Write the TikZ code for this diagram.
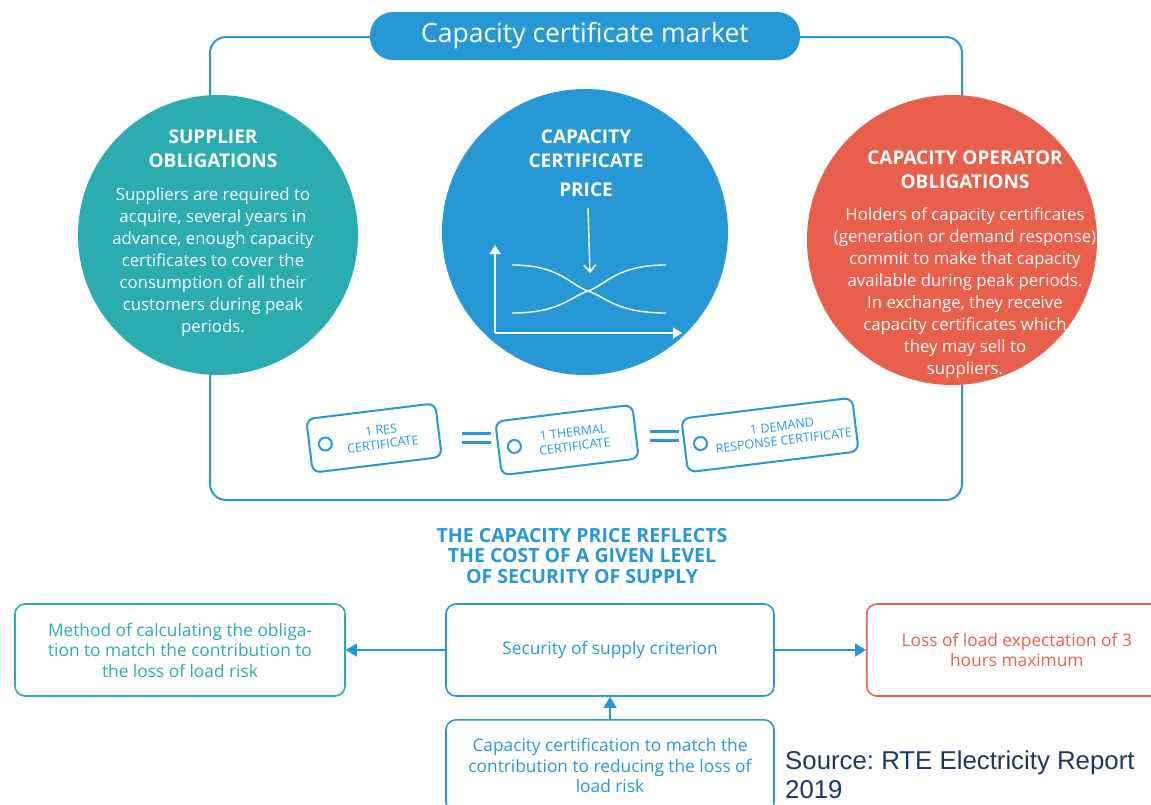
\documentclass[tikz,border=0pt]{standalone}
\usepackage{fontspec}
\setmainfont{Open Sans}
\newfontfamily\srcfont{Liberation Sans}
\usetikzlibrary{calc,arrows.meta,positioning}

\definecolor{capblue}{RGB}{38,152,214}
\definecolor{capteal}{RGB}{42,172,177}
\definecolor{capcoral}{RGB}{232,96,75}
\definecolor{srcnavy}{RGB}{28,56,98}

\tikzset{
  heading/.style={text=white,align=center,font=\fontsize{19}{24}\selectfont\bfseries},
  body/.style={text=white,align=center,font=\fontsize{16.8}{22}\selectfont},
  tagbox/.style={draw=capblue,line width=2pt,rounded corners=8pt,minimum height=54pt},
  tagtext/.style={text=capblue,align=center,inner sep=0pt,font=\fontsize{12.5}{14.5}\selectfont},
  hole/.style={draw=capblue,line width=2pt,circle,minimum size=13pt,inner sep=0pt},
  infobox/.style={draw=#1,line width=1.6pt,rounded corners=10pt,text=#1,align=center,
    minimum height=92pt,font=\fontsize{17.3}{20.5}\selectfont},
  link/.style={capblue,line width=1.6pt,-{Triangle[length=11pt,width=13pt]}},
}

\begin{document}
\begin{tikzpicture}[x=1pt,y=-1pt]
\useasboundingbox (0,0) rectangle (1151,804);
\clip (0,0) rectangle (1151,804);

% market frame and title
\draw[capblue,line width=2pt,rounded corners=16pt] (210,37) rectangle (962,500);
\node[fill=capblue,rounded corners=23pt,minimum width=430pt,minimum height=48pt,
  text=white,font=\fontsize{26.5}{30}\selectfont] (market) at (585,36) {Capacity certificate market};

% the three circles
\node[circle,fill=capteal,minimum size=280pt] (supplier) at (218,235) {};
\node[circle,fill=capblue,minimum size=286pt] (price) at (585,232) {};
\node[circle,fill=capcoral,minimum size=290pt] (operator) at (952,240) {};

\node[heading] (supplierhead) at (213,149) {SUPPLIER\\OBLIGATIONS};
\node[body,anchor=north] (supplierbody) at (213,184) {Suppliers are required to\\
  acquire, several years in\\advance, enough capacity\\certificates to cover the\\
  consumption of all their\\customers during peak\\periods.};

\node[heading] (pricehead) at (586,149) {CAPACITY\\CERTIFICATE};
\node[heading] (pricelabel) at (586,190) {PRICE};

\node[heading] (operatorhead) at (965,170) {CAPACITY OPERATOR\\OBLIGATIONS};
\node[body,anchor=north] (operatorbody) at (965,204) {Holders of capacity certificates\\
  (generation or demand response)\\commit to make that capacity\\available during peak periods.\\
  In exchange, they receive\\capacity certificates which\\they may sell to\\suppliers.};

% price graph
\coordinate (origin) at (495,333);
\coordinate (ytop) at (495,245);
\coordinate (xend) at (682,333);
\coordinate (cross) at (588,291);
\draw[white,line width=1.6pt,-{Triangle[length=9pt,width=11pt]}] (origin) -- (ytop);
\draw[white,line width=1.6pt,-{Triangle[length=9pt,width=11pt]}] (origin) -- (xend);
\draw[white,line width=1.4pt] (512,265) .. controls (560,265) and (570,285) .. (cross)
  .. controls (606,297) and (616,313) .. (666,313);
\draw[white,line width=1.4pt] (512,313) .. controls (560,313) and (570,297) .. (cross)
  .. controls (606,285) and (616,265) .. (666,265);
\draw[white,line width=1.4pt,-{Straight Barb[length=7pt,width=12pt]}] (pricelabel) ++(2,18) -- (590,273);

% certificates
\node[tagbox,minimum width=130pt,rotate=7] (res) at (374,438) {};
\node[tagbox,minimum width=138pt,rotate=7] (thermal) at (567,440) {};
\node[tagbox,minimum width=172pt,rotate=7] (demand) at (770,435) {};
\node[hole] (reshole) at ($(res.west)!17pt!(res.east)$) {};
\node[hole] (thermalhole) at ($(thermal.west)!17pt!(thermal.east)$) {};
\node[hole] (demandhole) at ($(demand.west)!17pt!(demand.east)$) {};
\node[tagtext,rotate=7] (restext) at ($(res.center)!8pt!(res.east)$) {1 RES\\CERTIFICATE};
\node[tagtext,rotate=7] (thermaltext) at ($(thermal.center)!7pt!(thermal.east)$) {1 THERMAL\\CERTIFICATE};
\node[tagtext,rotate=7] (demandtext) at ($(demand.center)!13pt!(demand.east)$) {1 DEMAND\\RESPONSE CERTIFICATE};

\draw[capblue,line width=3pt] (462,433) -- (491,433) (462,442) -- (491,442);
\draw[capblue,line width=3pt] (650,431) -- (679,431) (650,440) -- (679,440);

% security of supply
\node[text=capblue,align=center,font=\fontsize{19.5}{20.5}\selectfont\bfseries] (reflects) at (582,556)
  {THE CAPACITY PRICE REFLECTS\\THE COST OF A GIVEN LEVEL\\OF SECURITY OF SUPPLY};

\node[infobox=capteal,minimum width=330pt] (method) at (180,650)
  {Method of calculating the obliga-\\tion to match the contribution to\\the loss of load risk};
\node[infobox=capblue,minimum width=328pt] (criterion) at (610,650) {Security of supply criterion};
\node[infobox=capcoral,minimum width=300pt,anchor=west] (lole) at (866,650)
  {Loss of load expectation of 3\\hours maximum};
\node[infobox=capblue,minimum width=328pt,anchor=north,text depth=0pt] (certification) at (610,719)
  {Capacity certification to match the\\contribution to reducing the loss of\\load risk};

\draw[link] (criterion) -- (method);
\draw[link] (criterion) -- (lole);
\draw[link] (certification.north) -- (criterion.south);

\node[anchor=north west,text=srcnavy,align=left,inner sep=0pt,
  font=\srcfont\fontsize{25.8}{29}\selectfont] (source) at (785,751) {\frenchspacing Source: RTE Electricity Report\\2019};
\end{tikzpicture}
\end{document}
